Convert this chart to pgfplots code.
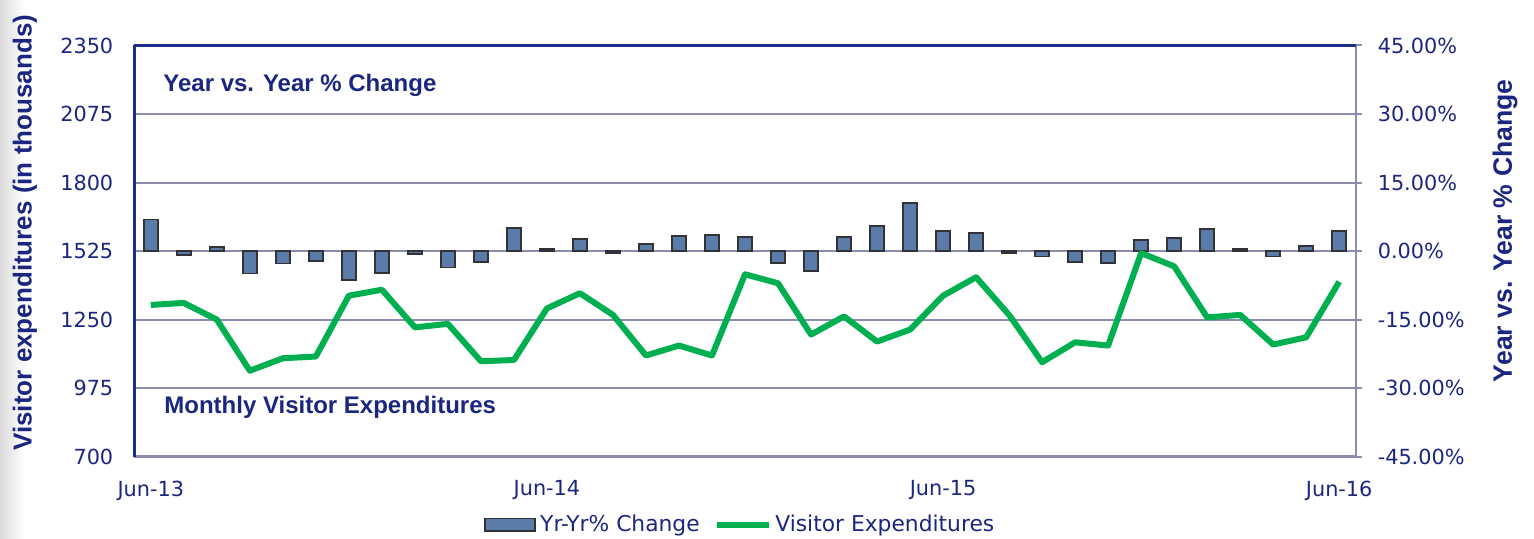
\documentclass[border=0pt]{standalone}
\usepackage{pgfplots}
\pgfplotsset{compat=1.18}
\usepackage{fontspec}
\setmainfont{DejaVu Sans}
\newfontfamily\arialfont{Liberation Sans}
\definecolor{navy}{RGB}{27,38,128}
\definecolor{barfill}{RGB}{91,123,168}
\definecolor{baredge}{RGB}{50,50,55}
\definecolor{linegreen}{RGB}{0,176,80}
\definecolor{gridc}{RGB}{140,140,176}
\definecolor{axnavy}{RGB}{30,45,140}

\pgfplotstableread{
x  v
0  6.9
1  -0.8
2  0.9
3  -4.9
4  -2.7
5  -2.2
6  -6.4
7  -4.8
8  -0.65
9  -3.6
10 -2.3
11 5.1
12 0.4
13 2.6
14 -0.5
15 1.5
16 3.3
17 3.5
18 3.1
19 -2.6
20 -4.4
21 3.1
22 5.5
23 10.5
24 4.4
25 4.0
26 -0.5
27 -1.2
28 -2.3
29 -2.6
30 2.5
31 2.9
32 4.8
33 0.4
34 -1.2
35 1.1
36 4.4
}\yoy

\pgfplotstableread{
x  v
0  1309
1  1317
2  1250
3  1045
4  1095
5  1102
6  1346
7  1370
8  1219
9  1233
10 1083
11 1088
12 1295
13 1356
14 1269
15 1106
16 1146
17 1106
18 1432
19 1396
20 1190
21 1263
22 1162
23 1210
24 1346
25 1420
26 1269
27 1079
28 1159
29 1146
30 1517
31 1464
32 1259
33 1269
34 1150
35 1179
36 1402
}\visexp

\begin{document}
\begin{tikzpicture}
\useasboundingbox (-67.15pt,-41.15pt) rectangle (699.85pt,228.35pt);
\shade[left color=black!14, right color=white] (-67.15pt,-41.15pt) rectangle (-55pt,228.35pt);
% bars, right axis
\begin{axis}[
  at={(0pt,0pt)}, anchor=south west,
  scale only axis, width=610.7pt, height=205.6pt,
  xmin=-0.5, xmax=36.5, ymin=-45, ymax=45,
  axis y line*=right, axis x line*=bottom,
  axis line style={gridc, line width=1.2pt, -},
  ytick={-45,-30,-15,0,15,30,45},
  yticklabels={-45.00\%,-30.00\%,-15.00\%,0.00\%,15.00\%,30.00\%,45.00\%},
  ymajorgrids, major grid style={gridc, line width=1pt},
  ytick style={gridc, line width=1pt},
  tick align=outside, major tick length=3pt,
  yticklabel style={font=\fontsize{10.4}{12}\selectfont, text=navy, anchor=west},
  yticklabel shift=4.5pt,
  xtick={0,12,24,36},
  xticklabels={Jun-13,Jun-14,Jun-15,Jun-16},
  xtick style={draw=none},
  xticklabel style={font=\fontsize{10.4}{12}\selectfont, text=navy},
  xticklabel shift=5.5pt,
  clip=false,
]
\addplot[ybar, bar width=7pt, fill=barfill, draw=baredge, line width=0.9pt] table[x=x, y=v] {\yoy};
\end{axis}
% line, left axis
\begin{axis}[
  at={(0pt,0pt)}, anchor=south west,
  scale only axis, width=610.7pt, height=205.6pt,
  xmin=-0.5, xmax=36.5, ymin=700, ymax=2350,
  axis y line*=left, axis x line*=top,
  axis line style={axnavy, line width=1.2pt, -},
  xtick=\empty,
  ytick={700,975,1250,1525,1800,2075,2350},
  yticklabels={700,975,1250,1525,1800,2075,2350},
  ytick style={draw=none}, major tick length=0pt,
  yticklabel style={font=\fontsize{10.4}{12}\selectfont, text=navy, anchor=east},
  yticklabel shift=7pt,
  legend style={at={(0.497,-0.166)}, anchor=center, draw=none, fill=none,
    font=\fontsize{10.9}{12}\selectfont, text=navy,
    /tikz/every even column/.append style={column sep=5pt}},
  legend columns=2,
]
\addlegendimage{legend image code/.code={\draw[fill=barfill, draw=baredge, line width=0.9pt] (0pt,-3.2pt) rectangle (25pt,3.2pt);}}
\addlegendentry{Yr-Yr\% Change}
\addplot[linegreen, line width=3pt, line join=round,
  legend image code/.code={\draw[linegreen, line width=2.8pt] (0pt,0pt) -- (26pt,0pt);}]
  table[x=x, y=v] {\visexp};
\addlegendentry{Visitor Expenditures}
\end{axis}
\node[anchor=west, inner sep=0pt, font=\arialfont\bfseries\fontsize{12}{14}\selectfont, text=navy] at (14.35pt,185.5pt) {Year vs. Year \% Change};
\node[anchor=west, inner sep=0pt, font=\arialfont\bfseries\fontsize{12}{14}\selectfont, text=navy] at (14.85pt,24.9pt) {Monthly Visitor Expenditures};
\node[rotate=90, inner sep=0pt, font=\arialfont\bfseries\fontsize{13}{15}\selectfont, text=navy] at (-54.65pt,112pt) {Visitor expenditures (in thousands)};
\node[rotate=90, inner sep=0pt, font=\arialfont\bfseries\fontsize{13.3}{15}\selectfont, text=navy] at (685.4pt,113pt) {Year vs. Year \% Change};
\end{tikzpicture}
\end{document}
